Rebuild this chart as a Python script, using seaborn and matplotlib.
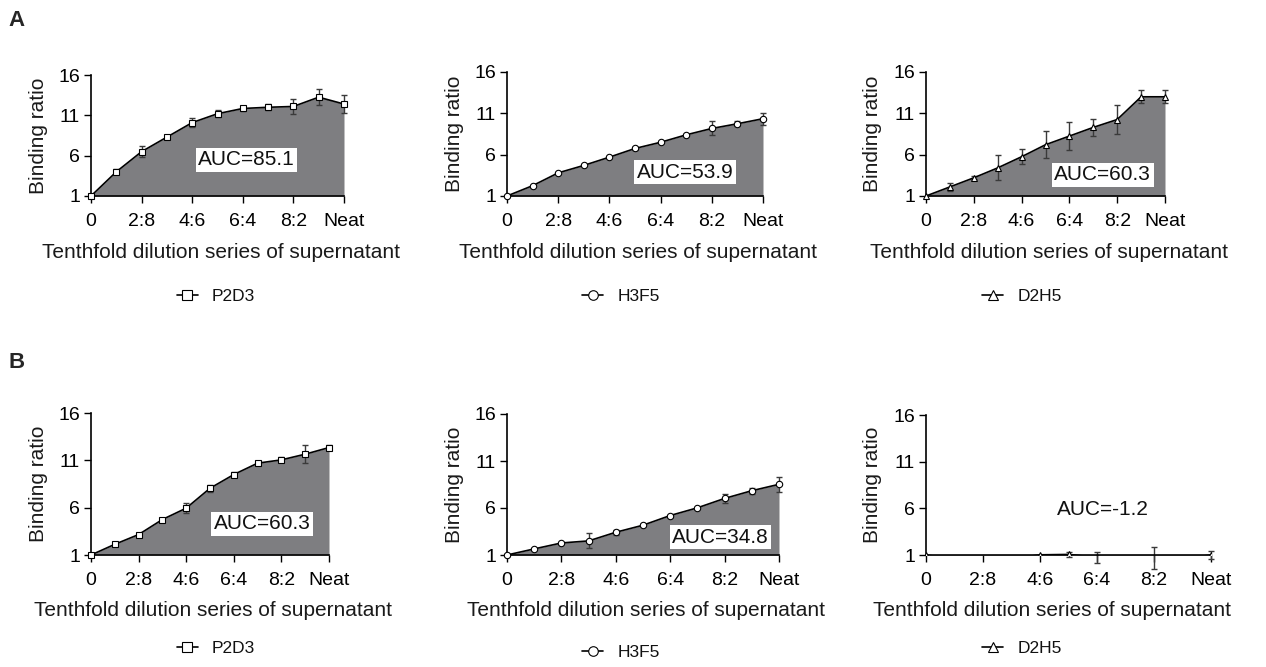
import matplotlib
matplotlib.use("Agg")
import matplotlib.pyplot as plt
import seaborn as sns
import numpy as np

# ---------------- data ----------------
dilution_pos = [0, 1, 2, 3, 4, 5, 6, 7, 8, 9, 10]
tick_pos = [0, 2, 4, 6, 8, 10]
tick_labels = ["0", "2:8", "4:6", "6:4", "8:2", "Neat"]
y_ticks = [1, 6, 11, 16]

a_p2d3 = [1.0, 4.0, 6.5, 8.3, 10.1, 11.2, 11.85, 12.0, 12.1, 13.25, 12.4]
a_p2d3_err = [0, 0.3, 0.65, 0.2, 0.6, 0.45, 0.3, 0.4, 0.9, 1.0, 1.1]
a_h3f5 = [1.0, 2.25, 3.8, 4.7, 5.7, 6.75, 7.5, 8.4, 9.17, 9.74, 10.35]
a_h3f5_err = [0, 0, 0, 0, 0, 0.2, 0, 0, 0.85, 0.3, 0.75]
a_d2h5 = [1.0, 2.1, 3.2, 4.4, 5.75, 7.2, 8.25, 9.3, 10.25, 13.0, 13.0]
a_d2h5_err = [0, 0.5, 0.2, 1.5, 0.9, 1.65, 1.65, 1.0, 1.75, 0.8, 0.8]

b_p2d3 = [1.0, 2.13, 3.16, 4.75, 5.95, 8.05, 9.5, 10.7, 11.05, 11.65, 12.35]
b_p2d3_err = [0, 0.15, 0.1, 0.15, 0.55, 0.35, 0.25, 0.2, 0.25, 0.97, 0.25]
b_h3f5 = [1.0, 1.65, 2.28, 2.5, 3.42, 4.17, 5.2, 6.02, 7.02, 7.84, 8.52]
b_h3f5_err = [0, 0, 0, 0.8, 0.25, 0.1, 0, 0, 0.45, 0.3, 0.77]
b_d2h5 = [1.0, 0.6, 0.6, 0.6, 1.02, 1.06, 0.75, 0.6, 0.7, 0.6, 1.0]
b_d2h5_err = [0, 0, 0, 0, 0, 0.3, 0.6, 0, 1.2, 0, 0.45]

auc_texts = ["AUC=85.1", "AUC=53.9", "AUC=60.3", "AUC=60.3", "AUC=34.8", "AUC=-1.2"]
auc_xy = [(6.15, 5.5), (6.95, 3.9), (7.4, 3.55), (7.2, 4.3), (7.85, 2.9), (6.2, 5.9)]
series_names = ["P2D3", "H3F5", "D2H5", "P2D3", "H3F5", "D2H5"]
x_title = "Tenthfold dilution series of supernatant"
y_title = "Binding ratio"

# ---------------- style ----------------
sns.set_theme(style="ticks")
plt.rcParams["font.family"] = ["Liberation Sans", "DejaVu Sans"]
plt.rcParams["axes.linewidth"] = 1.2

W, H = 1266, 667
fig = plt.figure(figsize=(W / 100, H / 100), dpi=100)
fig.patch.set_facecolor("white")

FILL = "#7e7e81"

# pixel boxes: left, right, top(16), bottom(1)
boxes = [
    (91, 344, 75, 196),
    (507, 763, 72, 196),
    (926, 1165, 72, 196),
    (91, 329, 413, 555),
    (507, 779, 414, 555),
    (926, 1211, 415, 555),
]
series = [
    (a_p2d3, a_p2d3_err, "s"),
    (a_h3f5, a_h3f5_err, "o"),
    (a_d2h5, a_d2h5_err, "^"),
    (b_p2d3, b_p2d3_err, "s"),
    (b_h3f5, b_h3f5_err, "o"),
    (b_d2h5, b_d2h5_err, "^"),
]
legend_xy = [(216, 296), (621, 296), (1022, 296), (216, 648), (621, 652), (1022, 648)]

for i, ((l, r, t, b), (vals, errs, mk)) in enumerate(zip(boxes, series)):
    ax = fig.add_axes([l / W, 1 - b / H, (r - l) / W, (b - t) / H])
    ax.set_facecolor("white")
    x = np.array(dilution_pos, dtype=float)
    y = np.array(vals, dtype=float)
    e = np.array(errs, dtype=float)
    clip = (i == 5)
    has_err = e > 0

    ax.fill_between(x, 1, y, color=FILL, lw=0, zorder=1)
    ax.errorbar(x[has_err], y[has_err], yerr=e[has_err], fmt="none", ecolor="#3a3a3a",
                elinewidth=1.0, capsize=2.3, capthick=1.0, zorder=2, clip_on=False)
    sns.lineplot(x=x, y=y, ax=ax, color="black", linewidth=1.2, marker=mk,
                 markersize=4.6, markerfacecolor="white",
                 markeredgecolor="black", markeredgewidth=0.8,
                 zorder=3, clip_on=clip, legend=False)
    line = ax.lines[-1]

    ax.set_xlim(0, 10)
    ax.set_ylim(1, 16)
    ax.set_xticks(tick_pos)
    ax.set_xticklabels(tick_labels)
    ax.set_yticks(y_ticks)
    ax.set_yticklabels([str(v) for v in y_ticks])
    sns.despine(ax=ax)
    ax.tick_params(axis="both", direction="out", length=5, width=1.0,
                   colors="black", labelsize=14)
    ax.tick_params(axis="x", pad=7)
    ax.tick_params(axis="y", pad=3)
    for sp in ax.spines.values():
        sp.set_color("black")

    ax.set_ylabel(y_title, fontsize=15, color="#1a1a1a")
    ax.yaxis.label.set_va("center")
    ax.yaxis.set_label_coords(-53 / (r - l), 0.5)
    ax.set_xlabel(x_title, fontsize=15, color="#1a1a1a")
    ax.xaxis.label.set_va("center")
    if i == 5:
        ax.xaxis.label.set_ha("left")
        ax.xaxis.set_label_coords((873 - l) / (r - l), -55 / (b - t))
    else:
        ax.xaxis.set_label_coords(0.5 + (3 / (r - l)), -56 / (b - t))

    tx, ty = auc_xy[i]
    ax.text(tx, ty, auc_texts[i], fontsize=15, color="#111111", ha="center", va="center",
            zorder=5, bbox=dict(boxstyle="square,pad=0.12", fc="white", ec="none"))

    lx, ly = legend_xy[i]
    leg = ax.legend(handles=[line], labels=[series_names[i]], loc="center",
                    bbox_to_anchor=(lx / W, 1 - ly / H), bbox_transform=fig.transFigure,
                    frameon=False, fontsize=12.5, handlelength=1.2, handletextpad=0.8,
                    borderpad=0, borderaxespad=0, markerscale=1.5)
    for txt in leg.get_texts():
        txt.set_color("#111111")

fig.text(8 / W, 1 - 20 / H, "A", fontsize=16, fontweight="bold", va="center", ha="left")
fig.text(8 / W, 1 - 362 / H, "B", fontsize=16, fontweight="bold", va="center", ha="left")

fig.savefig("out.png", dpi=100, facecolor="white")
